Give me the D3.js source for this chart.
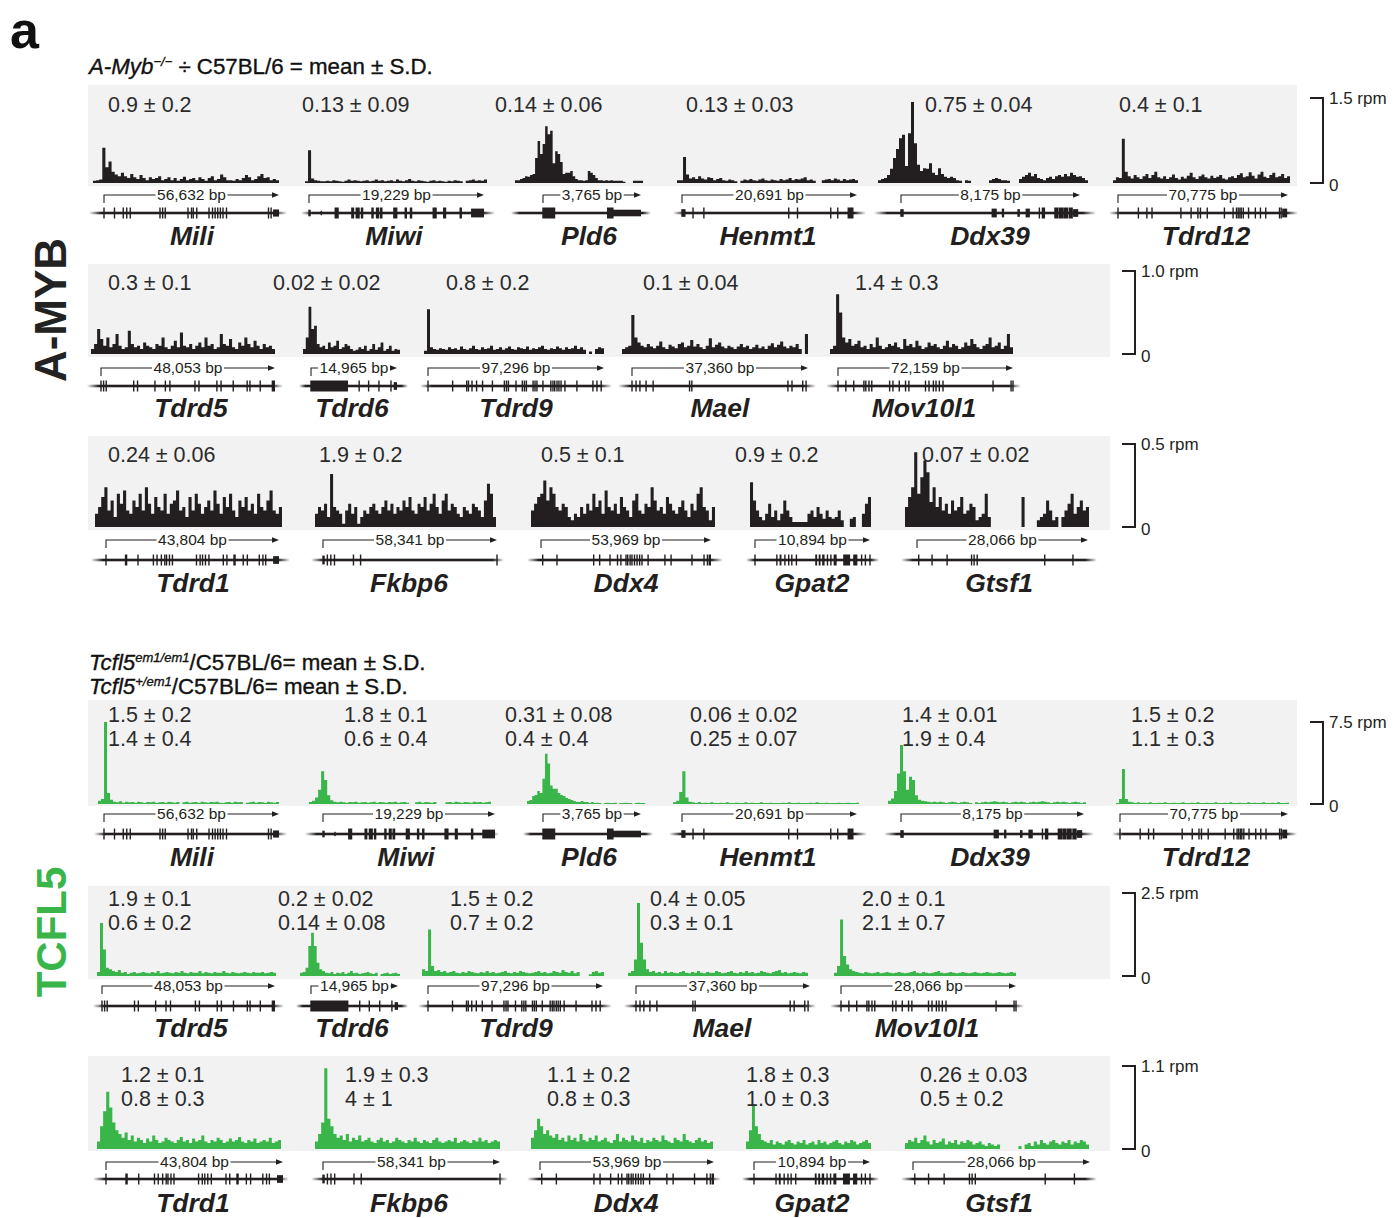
<!DOCTYPE html>
<html>
<head>
<meta charset="utf-8">
<script src="https://cdn.jsdelivr.net/npm/d3@7"></script>
<style>
  body { margin: 0; background: #fff; }
  svg text { font-family: "Liberation Sans", Arial, Helvetica, sans-serif; }
</style>
</head>
<body>
<svg id="fig" width="1394" height="1218"></svg>
<script>
// --------------------------------------------------
// data

// gene names per row (same in both panels)
const genesRow1 = ['Mili', 'Miwi', 'Pld6', 'Henmt1', 'Ddx39', 'Tdrd12'];
const genesRow2 = ['Tdrd5', 'Tdrd6', 'Tdrd9', 'Mael', 'Mov10l1'];
const genesRow3 = ['Tdrd1', 'Fkbp6', 'Ddx4', 'Gpat2', 'Gtsf1'];

// gene length labels (bp)
const mybBp1 = [56632, 19229, 3765, 20691, 8175, 70775];
const mybBp2 = [48053, 14965, 97296, 37360, 72159];
const mybBp3 = [43804, 58341, 53969, 10894, 28066];
const tcfBp1 = [56632, 19229, 3765, 20691, 8175, 70775];
const tcfBp2 = [48053, 14965, 97296, 37360, 28066];
const tcfBp3 = [43804, 58341, 53969, 10894, 28066];

// mutant / C57BL/6 ratios
const mybVals1 = ['0.9 ± 0.2', '0.13 ± 0.09', '0.14 ± 0.06', '0.13 ± 0.03', '0.75 ± 0.04', '0.4 ± 0.1'];
const mybVals2 = ['0.3 ± 0.1', '0.02 ± 0.02', '0.8 ± 0.2', '0.1 ± 0.04', '1.4 ± 0.3'];
const mybVals3 = ['0.24 ± 0.06', '1.9 ± 0.2', '0.5 ± 0.1', '0.9 ± 0.2', '0.07 ± 0.02'];
const tcfHomVals1 = ['1.5 ± 0.2', '1.8 ± 0.1', '0.31 ± 0.08', '0.06 ± 0.02', '1.4 ± 0.01', '1.5 ± 0.2'];
const tcfHetVals1 = ['1.4 ± 0.4', '0.6 ± 0.4', '0.4 ± 0.4', '0.25 ± 0.07', '1.9 ± 0.4', '1.1 ± 0.3'];
const tcfHomVals2 = ['1.9 ± 0.1', '0.2 ± 0.02', '1.5 ± 0.2', '0.4 ± 0.05', '2.0 ± 0.1'];
const tcfHetVals2 = ['0.6 ± 0.2', '0.14 ± 0.08', '0.7 ± 0.2', '0.3 ± 0.1', '2.1 ± 0.7'];
const tcfHomVals3 = ['1.2 ± 0.1', '1.9 ± 0.3', '1.1 ± 0.2', '1.8 ± 0.3', '0.26 ± 0.03'];
const tcfHetVals3 = ['0.8 ± 0.3', '4 ± 1', '0.8 ± 0.3', '1.0 ± 0.3', '0.5 ± 0.2'];

// track scale maxima (rpm)
const mybScaleMax = [1.5, 1.0, 0.5];
const tcfScaleMax = [7.5, 2.5, 1.1];

// exon models: position in % of gene length; number = thin exon, [start, end, height]
const exonsRow1 = [
  [0, 6, 11, 13, 15, 32, 33.5, 35, 48, 50, 51, 53, 60, 62, 63.5, 65, 66.5, 68, 70, 94, 95.5, [97, 100, 0.65]],
  [[0, 1, 0.6], [7, 7.3, 0.4], [15, 17], [24.5, 25.8], [27, 29], [30, 31], [36, 37], [38.6, 40], [40.8, 42],
    [48.5, 50.5], [55, 56], [58, 59], [71, 73], [77, 78.4], [86.4, 87.4], [93, 100, 0.8]],
  [[0, 12.5], [66, 72], [72, 100, 0.6]],
  [[0, 2, 0.7], 6.3, 12.5, 61, 66, 85, 89, [95, 98]],
  [[0, 1.5, 0.7], [51, 53.5, 0.8], [56.7, 57.6, 0.8], [65.4, 66.4, 0.7], [70, 72, 0.8], 77.3, [79, 80.5],
    [86, 88], [88.5, 90.5], [91, 93.3], [94, 96], [96.5, 99, 0.7]],
  [0, 12, 17, 20, 37, 43, 47, 48.5, 52.5, 62.6, 67.7, 69.7, 70.7, 71.7, 72.5, 73.7, 76.8, 80.8, 83.8, 86.9,
    95, 96, [97, 99.5, 0.8]]
];
const exonsRow2 = [
  [0, 1.5, 3, 18.8, 21, 31, 37, 39.6, 54, 56.3, 66.6, 69, 76, 84, 85.6, 91.5, [98.5, 100]],
  [[0, 43], 56, 67, 79, 93, [97, 100, 0.7]],
  [0, 14, 22, 23, 25, 27.6, 31, 36.6, 43.4, 44.6, 45.7, 50, 53.6, 54.8, 55.9, 59.7, 60.8, 61.9, 65.3, 69.8,
    71, 72, 73.3, 74.4, 75.6, 77.8, 84.6, 93.7, 96, 98.4],
  [0, 2.3, 4.5, 8, 12, 32.7, 34, 88.6, 90.9, 97, 98.9],
  [0, 4.5, 9, 14.8, 15.9, 17.7, 19.3, 29.5, 31.4, 35, 38.6, 40.5, 50, 52, 54.5, 56, 57.9, 60, 88.6, 98.9, 100]
];
const exonsRow3 = [
  [0, [11.3, 12.3], 18.5, 27.4, 29.5, 32, 34, 35, 36.7, 38.4, 52.3, 54.4, 55.8, 57.5, 59.5, 67.8, 69.9,
    [74, 75], 79.3, 81.7, 88.6, 90.7, 92.3, [97, 100, 0.7]],
  [[0, 1, 0.8], 2.5, 4.5, 6.6, 17.5, 21.6, 100],
  [1, 9.4, 31, 34.5, 40.6, 45, 47, 50, 51, 52.4, 53.5, 55, 56.5, 58, 59.4, 63, 72.9, 76.5, 88.8, 95.9,
    97.9, [99, 100]],
  [0, 19, [22, 23], 26, 29.3, 32, 36, [53, 54], [56, 57], [59, 60.5], 63, 66, [69, 71], [77.3, 82.7],
    [86, 89], 92.7, 96, 100],
  [1, 8.8, 17.6, 31.9, 33.4, 35.2, 74.7, 91.2]
];

// A-MYB ChIP coverage (rpm), binned along each window
const mybCov1 = [
  [.04,.05,.06,.62,.28,.38,.2,.15,.12,.18,.12,.09,.16,.1,.07,.14,.09,.05,.1,.07,.09,.12,.05,.07,.1,.05,.09,.04,.07,.11,
   .05,.07,.09,.05,.1,.07,.04,.09,.12,.05,.07,.15,.1,.05,.05,.04,.07,.05,.09,.14,.1,.05,.07,.12,.16,.09,.1,.05,.07,.05],
  [.03,.58,.08,.05,.04,.03,.03,.04,.03,.05,.04,.03,.02,.04,.06,.04,.05,.04,.03,.04,.05,.03,.04,.06,.04,.05,.03,.04,.05,.03,
   .06,.04,.03,.05,.07,.04,.03,.05,.04,.03,.02,.04,.05,.03,.04,.03,.02,.04,.03,.05,.04,.03,0,.04,.05,.06,.04,.05,.04,.06],
  [.05,.05,.07,.09,.12,.11,.14,.16,.44,.74,.51,.69,1.0,.86,.92,.35,.56,.51,.37,.16,.18,.18,.21,.12,.07,.05,.05,.04,.05,.21,
   .18,.14,.09,.05,.05,.04,.05,.04,.05,.04,.04,.04,.04,.02,0,0,0,.04,.04,.04,.04],
  [.05,.05,.46,.15,.08,.1,.07,.12,.08,.06,.1,.09,.05,.07,.09,.05,.04,.06,.05,.03,0,.04,.06,.05,.07,.05,.04,.06,.08,.05,
   .04,.06,.05,.04,.07,.05,.06,.09,.05,.07,.06,.08,.1,.05,.06,.04,0,0,.05,.06,.07,.05,.08,.06,.04,.07,.05,.06,.07,.05],
  [.05,.07,.09,.14,.25,.44,.6,.79,.85,.3,.88,1.43,.7,.32,.21,.26,.25,.35,.18,.14,.26,.16,.11,.09,.11,.09,.05,.04,0,.05,
   .04,0,0,0,0,0,0,.05,.07,.09,.07,.05,.05,.04,0,0,0,.07,.11,.14,.18,.12,.16,.09,.07,.05,.09,.11,.07,.12,
   .14,.11,.16,.12,.18,.14,.11,.12,.09,.05],
  [.05,.1,.09,.78,.2,.12,.08,.14,.1,.07,.12,.16,.09,.14,.2,.1,.08,.12,.07,.1,.15,.09,.06,.11,.08,.13,.18,.1,.07,.12,
   .15,.1,.08,.13,.09,.11,.14,.08,.06,.1,.12,.09,.14,.17,.1,.12,.19,.13,.08,.15,.2,.11,.09,.14,.18,.1,.12,.16,.09,.12]
];
const mybCov2 = [
  [.06,.12,.3,.18,.1,.2,.08,.12,.24,.1,.06,.08,.28,.12,.08,.1,.06,.14,.1,.08,.06,.12,.1,.2,.08,.06,.1,.16,.08,.26,
   .1,.08,.12,.06,.1,.14,.08,.2,.1,.12,.06,.08,.24,.12,.1,.18,.08,.06,.14,.1,.2,.12,.08,.16,.1,.06,.12,.08,.1,.06],
  [.06,.2,.57,.3,.34,.12,.08,.1,.06,.14,.08,.1,.16,.06,.08,.12,.1,.06,.04,.05,.08,.06,.1,.04,.06,.12,.05,.08,.14,.04,
   .06,.1,.04,.06,.05],
  [.04,.54,.08,.06,.05,.07,.06,.05,.08,.06,.07,.05,.09,.06,.05,.07,.1,.06,.05,.08,.06,.07,.1,.05,.06,.08,.05,.07,.09,.06,
   .05,.08,.07,.06,.09,.05,.07,.06,.08,.1,.06,.05,.07,.06,.09,.07,.05,.08,.06,.07,.1,.06,.08,.05,0,.03,0,.06,.08,.07],
  [.06,.08,.1,.47,.2,.14,.1,.08,.12,.09,.07,.1,.15,.08,.06,.11,.09,.07,.12,.14,.08,.1,.17,.09,.12,.08,.06,.1,.19,.08,
   .11,.14,.09,.07,.1,.08,.06,.09,.12,.08,.1,.06,.08,.11,.07,.09,.06,.1,.13,.08,.11,.15,.09,.07,.1,.08,.12,.06,0,.24],
  [.06,.1,.72,.5,.2,.14,.18,.1,.12,.16,.08,.1,.06,.12,.08,.2,.1,.06,.08,.12,.1,.14,.08,.06,.18,.1,.12,.08,.16,.1,
   .06,.08,.14,.1,.12,.08,.06,.1,.16,.08,.12,.1,.06,.08,.14,.1,.18,.12,.08,.06,.1,.12,.2,.08,.1,.14,.06,.1,.24,.08]
];
const mybCov3 = [
  [.08,.12,.18,.24,.1,.16,.06,.2,.14,.22,.1,.08,.16,.12,.2,.1,.24,.14,.08,.18,.12,.1,.2,.08,.14,.16,.22,.1,.12,.06,
   .18,.1,.2,.14,.08,.12,.16,.1,.22,.14,.08,.18,.12,.2,.1,.06,.16,.12,.18,.1,.14,.08,.2,.12,.1,.16,.22,.1,.08,.12],
  [.08,.12,.1,.14,.06,.32,.12,.1,.08,.02,.1,.14,.08,.12,.02,.06,.1,.08,.12,.14,.1,.08,.12,.16,.1,.14,.08,.12,.1,.16,
   .12,.18,.1,.08,.14,.12,.18,.1,.14,.2,.12,.08,.16,.2,.1,.14,.12,.08,.06,.12,.1,.08,.14,.12,.1,.06,.16,.26,.2,.06],
  [.1,.14,.18,.2,.28,.16,.24,.2,.12,.1,.14,.12,.06,.04,.08,.06,.12,.08,.14,.1,.2,.12,.16,.08,.22,.12,.1,.14,.08,.18,
   .12,.1,.06,.16,.2,.1,.08,.14,.12,.24,.16,.1,.12,.08,.18,.14,.1,.08,.12,.16,.1,.06,.14,.1,.2,.24,.12,.1,.04,.12],
  [.27,.16,.1,.06,.04,.08,.14,.06,.1,.04,.08,.16,.1,.06,.03,.03,.03,.03,.03,.08,.1,.06,.12,.08,.05,.1,.06,.05,.06,.1,
   .04,0,0,.05,.06,0,0,.08,.14,.18],
  [.12,.18,.24,.45,.2,.3,.4,.33,.15,.24,.12,.18,.1,.14,.08,.16,.1,.12,.18,.08,.1,.14,.12,.04,.06,.08,.2,.06,0,0,
   0,0,0,0,0,0,0,0,.18,0,0,0,0,.04,.06,.08,.16,.1,.04,.06,0,.06,.1,.14,.2,.08,.12,.16,.1,.12]
];

// TCFL5 ChIP coverage (rpm)
const tcfCov1 = [
  [.3,.46,7.5,1.0,.4,.2,.15,.25,.12,.2,.15,.18,.12,.2,.15,.1,.18,.15,.2,.1,.15,.18,.12,.2,.15,.12,.18,0,.15,.2,
   .12,.15,.18,.1,.2,.15,.12,.18,.15,.2,.12,.1,.15,.18,.12,.2,.15,.18,0,.12,.15,.2,.12,.18,.15,.1,.2,.15,.12,.18],
  [.18,.3,.6,1.3,3.0,2.2,.8,.35,.2,.15,.2,.15,.12,.18,.15,.2,.12,.15,.18,.12,.15,.2,.12,.18,.15,.12,.18,.15,.2,.12,
   .15,.18,.12,0,0,.15,.2,.12,.18,.15,.12,.18,0,0,0,.15,.18,.12,.2,.15,.12,.18,.15,.12,.2,.15,.18,.12,.15,.2],
  [.28,.37,.74,.83,1.2,1.0,2.3,4.6,3.7,1.7,1.4,1.4,1.0,.83,.74,.55,.46,.37,.28,.18,.18,.28,.18,.18,.1,.18,.1,.12,.1,0,
   .1,.12,.1,.1,.12,0,.1,.1,.12,.1,.1,0,.1,.12,.1,.1],
  [.15,.3,1.1,3.0,.6,.2,.15,.1,.18,.1,.12,.1,.15,.1,.1,.12,.1,.15,.1,.1,.12,.1,.1,.15,.1,.12,.1,.1,.15,.1,
   .1,.12,.1,.1,.1,.12,.1,.15,.1,.1,.12,.1,.1,.1,.12,.1,.15,.1,.1,.12,.1,.1,.1,.12,.1,.1,.12,.1,.1,.12],
  [.3,.5,1.2,2.8,5.4,3.0,1.3,2.5,2.2,.8,.4,.3,.25,.2,.15,.2,.15,.2,.15,.1,.15,.2,.15,.1,.15,.2,.15,.1,0,.15,
   .1,.15,.2,.15,.2,.25,.2,.15,.2,.15,.1,.15,.2,.15,.2,.15,.1,.15,.2,.15,.2,.25,.2,.15,.1,.15,.2,.15,.2,.15,
   .1,.15,.2,.15,.1,.15],
  [.1,.45,3.2,.45,.2,.15,.1,.15,.1,.12,.1,.15,.1,.1,.12,.1,.15,.1,.1,.12,.1,.1,.15,.1,.1,.12,.1,.15,.1,.1,
   .12,.1,.1,.15,.1,.1,.12,.1,.15,.1,.1,.12,.1,.1,.15,.1,.12,.1,.1,.15,.1,.1,.12,.1,.15,.1,.1,.12]
];
const tcfCov2 = [
  [.12,1.6,.8,.25,.2,.15,.12,.18,.1,.12,.06,.1,.12,.08,.1,.12,.1,.08,.12,.1,.15,.08,.1,.12,.1,.08,.12,.1,.15,.1,
   .08,.12,.1,.1,.15,.08,.12,.1,.08,.12,.1,.1,.15,.1,.08,.12,.1,.08,.1,.12,.1,.08,.12,.1,.1,.12,.08,.1,.12,.1],
  [.1,.12,.25,.9,1.3,.9,.4,.2,.15,.1,.08,.12,.06,.1,.08,.12,.06,.1,.15,.08,.1,.06,.08,.1,.12,.08,.06,.1,0,.06,
   .08,.1,.06,.08,.1,.06],
  [.2,.15,1.4,.3,.15,.18,.12,.15,.1,.12,.15,.1,.08,.12,.1,.15,.12,.1,.08,.12,.1,.15,.1,.12,.08,.1,.12,.15,.1,.08,
   .12,.1,.15,.12,.1,.08,.1,.12,.15,.1,.12,.08,.1,.15,.12,.1,.18,.12,.1,.15,.08,.12,0,0,0,.05,.12,.15,.1,.12],
  [.1,.15,.5,2.2,1.0,.5,.2,.12,.15,.1,.12,.08,.15,.1,.12,.1,.08,.12,.15,.1,.08,.12,.1,.15,.1,.08,.12,.1,.1,.15,
   .12,.08,.1,.12,.15,.1,.08,.12,.1,.15,.1,.12,.08,.1,.15,.12,.1,.08,.12,.15,.18,.1,.12,.08,.1,.12,.1,.08,.12,.1],
  [.1,.3,1.7,.6,.35,.2,.15,.12,.1,.08,.12,.1,.08,.1,.12,.08,.1,.12,.1,.08,.1,.12,.1,.08,.1,.12,.15,.1,.08,.12,
   .1,.08,.1,.12,.15,.1,.08,.1,.12,.1,.08,.1,.12,.1,.08,.1,.12,.1,.08,.1,.12,.1,.08,.1,.12,.1,.08,.1,.12,.1]
];
const tcfCov3 = [
  [.1,.3,.5,.76,.55,.35,.25,.2,.15,.22,.12,.18,.1,.15,.12,.08,.14,.1,.18,.12,.08,.1,.15,.12,.1,.08,.12,.16,.1,.12,
   .08,.14,.1,.12,.18,.1,.08,.12,.1,.15,.12,.08,.1,.14,.1,.12,.16,.1,.08,.12,.1,.14,.08,.1,.12,.1,.15,.08,.1,.12],
  [.1,.2,.35,1.07,.4,.3,.2,.15,.18,.12,.2,.1,.15,.12,.18,.1,.12,.15,.1,.08,.12,.15,.1,.12,.08,.1,.15,.12,.1,.08,
   .12,.1,.15,.1,.08,.12,.1,.08,.12,.15,.1,.08,.1,.12,.1,.15,.08,.1,.12,.1,.08,.12,.1,.15,.1,.12,.08,.1,.12,.1],
  [.15,.25,.4,.3,.2,.25,.18,.15,.2,.12,.15,.1,.18,.12,.15,.1,.2,.12,.1,.15,.12,.18,.1,.12,.15,.1,.08,.12,.2,.1,
   .15,.12,.1,.18,.12,.1,.15,.08,.12,.1,.15,.12,.1,.18,.12,.1,.08,.15,.12,.1,.2,.12,.1,.08,.12,.15,.1,.12,.08,.1],
  [.1,.25,.58,.3,.2,.12,.1,.08,.12,.06,.1,.08,.06,.1,.12,.08,.06,.1,.08,.12,.06,.08,.1,.06,.12,.08,.1,.06,.08,.1,
   .12,.08,.06,.1,.08,.12,.1,.06,.08,.1,.12,.08],
  [.08,.12,.1,.15,.08,.12,.18,.1,.06,.12,.08,.1,.14,.06,.1,.08,.12,.06,.1,.08,.12,.1,.06,.08,.1,.06,.04,.08,.06,.04,
   .06,0,0,0,0,0,0,.04,0,.06,.08,.04,.1,.06,.12,.08,.06,.1,.12,.08,.06,.1,.08,.12,.06,.1,.08,.12,.1,.06]
];

// --------------------------------------------------
// layout (pixels): per track [coverage x0, coverage x1, TSS x, gene end x, label x, name centre x]

const mybLayout = [
  [[93, 279, 104, 279, 108, 192], [305, 487, 309, 484, 302, 394], [515, 643, 543, 641, 495, 589],
   [677, 858, 682, 857, 686, 768], [878, 1088, 901, 1080, 925, 990], [1113, 1290, 1118, 1288, 1119, 1206]],
  [[91, 275, 101, 275, 108, 191], [303, 400, 311, 397, 273, 352], [424, 604, 428, 604, 446, 516],
   [622, 808, 632, 808, 643, 720], [830, 1013, 838, 1013, 855, 924]],
  [[95, 282, 106, 279, 108, 193], [315, 496, 323, 497, 319, 409], [531, 715, 541, 711, 541, 626],
   [750, 871, 755, 870, 735, 812], [905, 1089, 917, 1088, 922, 999]]
];
const tcfLayout = [
  [[98, 279, 104, 279, 108, 192], [309, 491, 323, 495, 344, 406], [527, 645, 543, 641, 505, 589],
   [673, 859, 682, 857, 690, 768], [888, 1086, 901, 1084, 902, 990], [1116, 1289, 1120, 1288, 1131, 1206]],
  [[97, 276, 102, 275, 108, 191], [300, 400, 311, 398, 278, 352], [422, 604, 428, 603, 450, 516],
   [628, 808, 636, 810, 650, 722], [834, 1016, 841, 1016, 862, 927]],
  [[97, 281, 106, 283, 121, 193], [315, 500, 323, 500, 345, 409], [531, 713, 540, 714, 547, 626],
   [746, 871, 754, 870, 746, 812], [905, 1089, 913, 1090, 920, 999]]
];
const mybRows = [
  { bgTop: 85, bgBot: 186, bgRight: 1297, base: 183, top: 98, lab: 112, arrow: 195, model: 213, name: 245, scaleX: 1310 },
  { bgTop: 264, bgBot: 357, bgRight: 1110, base: 354, top: 271, lab: 290, arrow: 368, model: 386, name: 417, scaleX: 1122 },
  { bgTop: 436, bgBot: 530, bgRight: 1110, base: 527, top: 444, lab: 462, arrow: 540, model: 560, name: 592, scaleX: 1122 }
];
const tcfRows = [
  { bgTop: 700, bgBot: 806, bgRight: 1297, base: 804, top: 722, lab: 722, arrow: 814, model: 834, name: 866, scaleX: 1310 },
  { bgTop: 886, bgBot: 979, bgRight: 1110, base: 976, top: 893, lab: 906, arrow: 986, model: 1006, name: 1037, scaleX: 1122 },
  { bgTop: 1056, bgBot: 1151, bgRight: 1110, base: 1149, top: 1066, lab: 1082, arrow: 1162, model: 1179, name: 1212, scaleX: 1122 }
];

const BLACK = '#231f20';
const GREEN = '#3ab54a';
const INK = '#231f20';

// --------------------------------------------------

const svg = d3.select('#fig');
const fmtBp = d3.format(',');
const fmtRpm = d3.format('.1f');

const defs = svg.append('defs');
const fade = defs.append('linearGradient').attr('id', 'fade');
[[0, 0], [0.06, 1], [0.94, 1], [1, 0]].forEach(([o, a]) =>
  fade.append('stop').attr('offset', o).attr('stop-color', INK).attr('stop-opacity', a));

function drawTrack(g, row, lay, cov, exons, yMax, color, bp, name, vals)
{
  let y = d3.scaleLinear().domain([0, yMax]).range([row.base, row.top]);
  let x = d3.scaleLinear().domain([0, cov.length]).range([lay[0], lay[1]]);

  let area = d3.area()
    .x((d, i) => x(i))
    .y0(row.base)
    .y1(d => y(Math.min(d, yMax)))
    .curve(d3.curveStepAfter);

  g.append('path')
    .datum(cov.concat([cov[cov.length - 1]]))
    .attr('d', area)
    .attr('fill', color);

  // ratio labels
  vals.forEach((v, k) =>
  {
    g.append('text')
      .attr('x', lay[4])
      .attr('y', row.lab + k * 24)
      .attr('font-size', 21.5)
      .attr('fill', '#2b2b2b')
      .text(v);
  });

  // gene span arrow with length label
  let gx = d3.scaleLinear().domain([0, 100]).range([lay[2], lay[3]]);
  let mid = (gx(0) + gx(100)) / 2;
  let lbl = g.append('text')
    .attr('x', mid)
    .attr('y', row.arrow + 5)
    .attr('text-anchor', 'middle')
    .attr('font-size', 15.5)
    .attr('fill', INK)
    .text(fmtBp(bp) + ' bp');
  let half = lbl.node().getComputedTextLength() / 2 + 1.5;
  g.append('path')
    .attr('d', `M${gx(0)},${row.arrow + 8}V${row.arrow}H${mid - half}M${mid + half},${row.arrow}H${gx(100) - 6}`)
    .attr('fill', 'none')
    .attr('stroke', INK)
    .attr('stroke-width', 1.1);
  g.append('path')
    .attr('d', `M${gx(100) - 7},${row.arrow - 2.8}L${gx(100)},${row.arrow}L${gx(100) - 7},${row.arrow + 2.8}Z`)
    .attr('fill', INK);

  // gene model
  g.append('rect')
    .attr('x', lay[0] - 4)
    .attr('width', lay[1] - lay[0] + 12)
    .attr('y', row.model - 1.3)
    .attr('height', 2.6)
    .attr('fill', 'url(#fade)');

  let ex = exons.map(e => typeof e === 'number' ? [e, e, 1] : [e[0], e[1], e[2] || 1]);
  g.selectAll(null)
    .data(ex)
    .enter()
    .append('rect')
    .attr('x', d => gx(d[0]) - 0.7)
    .attr('width', d => Math.max(1.4, gx(d[1]) - gx(d[0]) + 0.7))
    .attr('y', d => row.model - 5.5 * d[2])
    .attr('height', d => 11 * d[2])
    .attr('fill', INK);

  g.append('text')
    .attr('x', lay[5])
    .attr('y', row.name)
    .attr('text-anchor', 'middle')
    .attr('font-size', 26.5)
    .attr('font-weight', 'bold')
    .attr('font-style', 'italic')
    .attr('fill', INK)
    .text(name);
}

function drawRow(row, layout, covs, exons, yMax, color, bps, names, valSets)
{
  let g = svg.append('g');
  g.append('rect')
    .attr('x', 88)
    .attr('y', row.bgTop)
    .attr('width', row.bgRight - 88)
    .attr('height', row.bgBot - row.bgTop)
    .attr('fill', '#f2f2f2');

  names.forEach((n, i) =>
    drawTrack(g, row, layout[i], covs[i], exons[i], yMax, color, bps[i], n, valSets.map(v => v[i])));

  // scale bar
  let y = d3.scaleLinear().domain([0, yMax]).range([row.base, row.top]);
  g.append('path')
    .attr('d', `M${row.scaleX},${y(yMax)}H${row.scaleX + 13}V${y(0)}H${row.scaleX}`)
    .attr('fill', 'none')
    .attr('stroke', INK)
    .attr('stroke-width', 2);
  g.append('text')
    .attr('x', row.scaleX + 19)
    .attr('y', y(yMax) + 6)
    .attr('font-size', 17)
    .attr('fill', INK)
    .text(fmtRpm(yMax) + ' rpm');
  g.append('text')
    .attr('x', row.scaleX + 19)
    .attr('y', y(0) + 8)
    .attr('font-size', 17)
    .attr('fill', INK)
    .text('0');
}

const geneRows = [genesRow1, genesRow2, genesRow3];
const exonRows = [exonsRow1, exonsRow2, exonsRow3];

const mybCovs = [mybCov1, mybCov2, mybCov3];
const mybBps = [mybBp1, mybBp2, mybBp3];
const mybValRows = [[mybVals1], [mybVals2], [mybVals3]];
mybRows.forEach((row, r) =>
  drawRow(row, mybLayout[r], mybCovs[r], exonRows[r], mybScaleMax[r], BLACK, mybBps[r], geneRows[r], mybValRows[r]));

const tcfCovs = [tcfCov1, tcfCov2, tcfCov3];
const tcfBps = [tcfBp1, tcfBp2, tcfBp3];
const tcfValRows = [[tcfHomVals1, tcfHetVals1], [tcfHomVals2, tcfHetVals2], [tcfHomVals3, tcfHetVals3]];
tcfRows.forEach((row, r) =>
  drawRow(row, tcfLayout[r], tcfCovs[r], exonRows[r], tcfScaleMax[r], GREEN, tcfBps[r], geneRows[r], tcfValRows[r]));

// --------------------------------------------------
// panel letter, side labels and headers

svg.append('text')
  .attr('x', 10).attr('y', 48)
  .attr('font-size', 52).attr('font-weight', 'bold').attr('fill', '#111')
  .text('a');

svg.append('text')
  .attr('transform', 'translate(66,310) rotate(-90)')
  .attr('text-anchor', 'middle')
  .attr('font-size', 44).attr('font-weight', 'bold').attr('fill', '#222')
  .text('A-MYB');

svg.append('text')
  .attr('transform', 'translate(66,932) rotate(-90)')
  .attr('text-anchor', 'middle')
  .attr('font-size', 42).attr('font-weight', 'bold').attr('fill', GREEN)
  .text('TCFL5');

function header(yPos, gene, sup, rest)
{
  let t = svg.append('text')
    .attr('x', 89).attr('y', yPos)
    .attr('font-size', 22.3).attr('fill', '#111')
    .attr('stroke', '#111').attr('stroke-width', 0.35);
  t.append('tspan').attr('font-style', 'italic').text(gene);
  t.append('tspan').attr('font-style', 'italic').attr('font-size', 13).attr('dy', -8).text(sup);
  t.append('tspan').attr('dy', 8).text(rest);
}

header(74, 'A-Myb', '−/−', ' ÷ C57BL/6 = mean ± S.D.');
header(670, 'Tcfl5', 'em1/em1', '/C57BL/6= mean ± S.D.');
header(694, 'Tcfl5', '+/em1', '/C57BL/6= mean ± S.D.');
</script>
</body>
</html>
